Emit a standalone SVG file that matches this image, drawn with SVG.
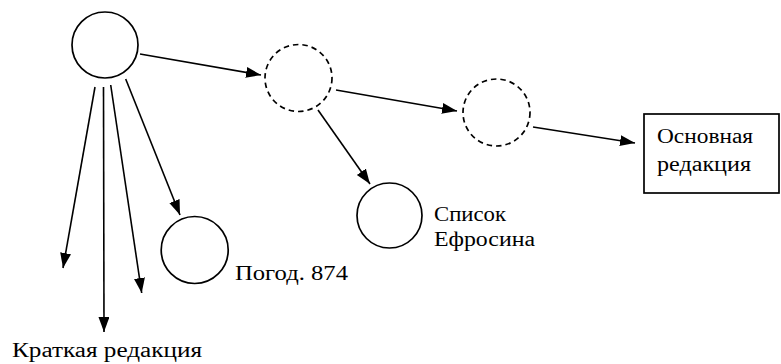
<svg xmlns="http://www.w3.org/2000/svg" width="781" height="364" viewBox="0 0 781 364">
<style>
.n{fill:none;stroke:#000;stroke-width:1.7}
.d{fill:none;stroke:#000;stroke-width:1.7;stroke-dasharray:5.5 4}
.e{fill:none;stroke:#000;stroke-width:1.6;marker-end:url(#ah)}
.t{font-family:'Liberation Serif',serif;font-size:20px;fill:#000}
</style>
<defs>
<marker id="ah" markerUnits="userSpaceOnUse" markerWidth="17" markerHeight="13" refX="15" refY="5.5" orient="auto">
<path d="M0,0 L15,5.5 L0,11 z" fill="#000"/>
</marker>
</defs>
<rect width="781" height="364" fill="#fff"/>
<g id="root"><circle class="n" cx="105" cy="45" r="33"/></g>
<g id="h1"><circle class="d" cx="298.5" cy="78" r="33.5"/></g>
<g id="h2"><circle class="d" cx="496.5" cy="112.5" r="33.5"/></g>
<g id="osnovnaya"><rect class="n" x="644" y="114" width="135" height="79"/><text class="t" font-family="Liberation Serif" x="657" y="143" textLength="96" lengthAdjust="spacingAndGlyphs">Основная</text><text class="t" font-family="Liberation Serif" x="657" y="171" textLength="94" lengthAdjust="spacingAndGlyphs">редакция</text></g>
<g id="efrosin"><circle class="n" cx="389.5" cy="215.5" r="32.5"/><text class="t" font-family="Liberation Serif" x="434" y="221" textLength="72" lengthAdjust="spacingAndGlyphs">Список</text><text class="t" font-family="Liberation Serif" x="434" y="246" textLength="101" lengthAdjust="spacingAndGlyphs">Ефросина</text></g>
<g id="pogod"><circle class="n" cx="194.7" cy="250" r="33.5"/><text class="t" font-family="Liberation Serif" x="235" y="280" textLength="113" lengthAdjust="spacingAndGlyphs">Погод. 874</text></g>
<g id="kratkaya"><text class="t" font-family="Liberation Serif" x="12" y="357" textLength="190" lengthAdjust="spacingAndGlyphs">Краткая редакция</text></g>
<g id="connectors">
<line class="e" x1="140" y1="54" x2="261" y2="75"/>
<line class="e" x1="336" y1="90" x2="457" y2="111"/>
<line class="e" x1="318" y1="110" x2="370" y2="184"/>
<line class="e" x1="533" y1="127" x2="635" y2="143"/>
<line class="e" x1="95" y1="87" x2="63" y2="268"/>
<line class="e" x1="103.5" y1="87" x2="104" y2="332"/>
<line class="e" x1="110.7" y1="85" x2="141.7" y2="293"/>
<line class="e" x1="125.7" y1="79" x2="180" y2="215"/>
</g>
</svg>
